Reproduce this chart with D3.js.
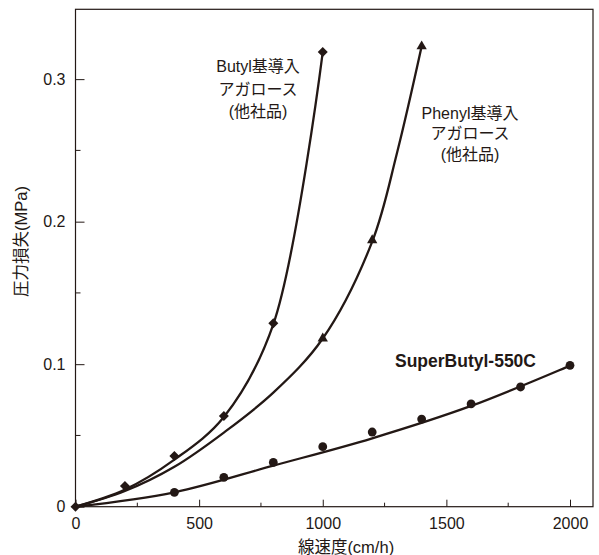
<!DOCTYPE html>
<html lang='ja'>
<head>
<meta charset='utf-8'>
<script src='https://cdn.jsdelivr.net/npm/d3@7'></script>
<style>
  body { margin: 0; background: #fff; }
  text { font-family: 'Liberation Sans', 'Noto Sans CJK JP', sans-serif; fill: #231815; }
</style>
</head>
<body>
<script>
// measured points (markers)
var butylPts = [[0, 0], [200, 0.0145], [400, 0.0356], [600, 0.0636], [800, 0.1287], [1000, 0.319]];
var phenylPts = [[1000, 0.118], [1200, 0.187], [1400, 0.323]];
var superPts = [[400, 0.0101], [600, 0.0206], [800, 0.0311], [1000, 0.0421], [1200, 0.0524],
                [1400, 0.0615], [1600, 0.0721], [1800, 0.084], [2000, 0.0992]];

// fitted curves
var butylFit = [[0, 0], [200, 0.012], [400, 0.033], [600, 0.063], [800, 0.128], [1000, 0.319]];
var phenylFit = [[0, 0], [200, 0.011], [400, 0.028], [600, 0.052], [800, 0.08], [1000, 0.118],
                 [1200, 0.186], [1300, 0.248], [1400, 0.323]];
var superFit = [[0, 0], [400, 0.0101], [800, 0.0288], [1200, 0.048], [1600, 0.0707], [2000, 0.099]];

var xTicks = [0, 500, 1000, 1500, 2000];
var xMinor = [250, 750, 1250, 1750];
var yTicks = [0, 0.1, 0.2, 0.3];
var yMinor = [0.05, 0.15, 0.25];

var width = 599, height = 555;
var ink = '#231815';
var svg = d3.select('body').append('svg').attr('width', width).attr('height', height);

var x = d3.scaleLinear().domain([0, 2093]).range([75.5, 593]);
var y = d3.scaleLinear().domain([0, 0.349]).range([506.7, 9.3]);

// frame
svg.append('rect').attr('x', x(0)).attr('y', y(0.349))
  .attr('width', x(2093) - x(0)).attr('height', y(0) - y(0.349))
  .attr('fill', 'none').attr('stroke', ink).attr('stroke-width', 1.2);

// x axis (ticks inward)
var xAxis = d3.axisBottom(x).tickValues(xTicks).tickSizeInner(-7).tickSizeOuter(0).tickPadding(11)
  .tickFormat(d3.format('d'));
var gx = svg.append('g').attr('transform', 'translate(0,' + y(0) + ')').call(xAxis);
gx.select('.domain').remove();
gx.selectAll('line').attr('stroke', ink);
gx.selectAll('text').attr('font-size', 16).style('fill', ink);
svg.append('g').selectAll('line').data(xMinor).enter().append('line')
  .attr('x1', d => x(d)).attr('x2', d => x(d)).attr('y1', y(0)).attr('y2', y(0) - 4)
  .attr('stroke', ink);

// y axis (ticks inward)
var yAxis = d3.axisLeft(y).tickValues(yTicks).tickSizeInner(-9).tickSizeOuter(0).tickPadding(10)
  .tickFormat(d => d === 0 ? '0' : d3.format('.1f')(d));
var gy = svg.append('g').attr('transform', 'translate(' + x(0) + ',0)').call(yAxis);
gy.select('.domain').remove();
gy.selectAll('line').attr('stroke', ink);
gy.selectAll('text').attr('font-size', 16).style('fill', ink);
svg.append('g').selectAll('line').data(yMinor).enter().append('line')
  .attr('x1', x(0)).attr('x2', x(0) + 5).attr('y1', d => y(d)).attr('y2', d => y(d))
  .attr('stroke', ink);
svg.selectAll('g.tick text').attr('font-family', "'Liberation Sans', sans-serif");

// axis titles
svg.append('text').attr('x', 346).attr('y', 552.5).attr('text-anchor', 'middle')
  .attr('font-size', 16.5).text('線速度(cm/h)');
svg.append('text').attr('transform', 'translate(26.5,241.5) rotate(-90)').attr('text-anchor', 'middle')
  .attr('font-size', 16.5).text('圧力損失(MPa)');

// curves
var line = d3.line().x(d => x(d[0])).y(d => y(d[1])).curve(d3.curveCatmullRom.alpha(0.5));
[butylFit, phenylFit, superFit].forEach(function (s) {
  svg.append('path').datum(s).attr('d', line).attr('fill', 'none')
    .attr('stroke', ink).attr('stroke-width', 2.3);
});

// markers
svg.append('g').selectAll('path').data(butylPts).enter().append('path')
  .attr('d', d3.symbol().type(d3.symbolSquare).size(50))
  .attr('transform', d => 'translate(' + x(d[0]) + ',' + y(d[1]) + ') rotate(45)')
  .attr('fill', ink);
svg.append('g').selectAll('path').data(phenylPts).enter().append('path')
  .attr('d', d3.symbol().type(d3.symbolTriangle).size(46))
  .attr('transform', d => 'translate(' + x(d[0]) + ',' + y(d[1]) + ')')
  .attr('fill', ink);
svg.append('g').selectAll('circle').data(superPts).enter().append('circle')
  .attr('cx', d => x(d[0])).attr('cy', d => y(d[1])).attr('r', 4.4)
  .attr('fill', ink);

// annotations
function label(lines, cx, cy, size, bold, gap) {
  var t = svg.append('text').attr('text-anchor', 'middle').attr('font-size', size)
    .attr('font-weight', bold ? 'bold' : 'normal');
  lines.forEach(function (s, i) {
    t.append('tspan').attr('x', cx).attr('y', cy + i * gap).text(s);
  });
}
label(['Butyl基導入', 'アガロース', '(他社品)'], 258, 72, 16, false, 22.5);
label(['Phenyl基導入', 'アガロース', '(他社品)'], 470, 118.5, 16, false, 20.5);
label(['SuperButyl-550C'], 465.5, 366.5, 17.5, true, 0);
</script>
</body>
</html>
